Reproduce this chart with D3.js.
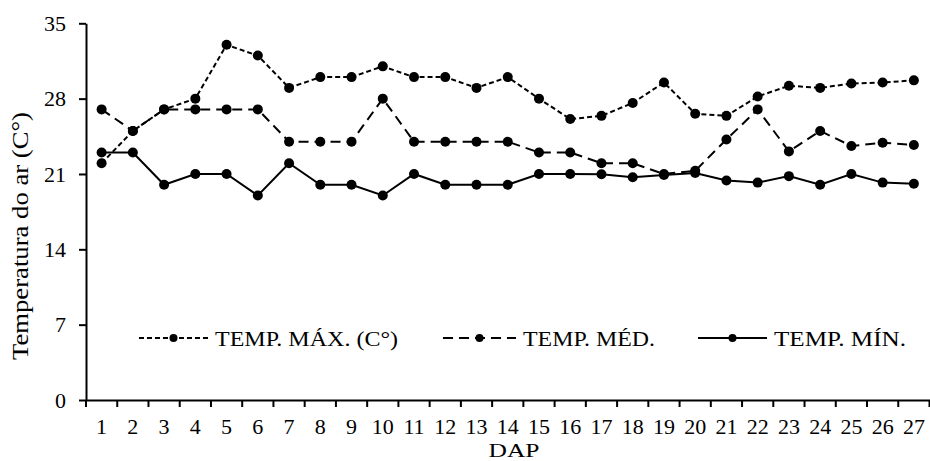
<!DOCTYPE html>
<html>
<head>
<meta charset="utf-8">
<script src="https://cdn.jsdelivr.net/npm/d3@7"></script>
<style>
  body { margin: 0; background: #fff; }
  svg text { font-family: "Liberation Serif", "Times New Roman", serif; fill: #000; }
</style>
</head>
<body>
<script>
// DAP (days after planting)
var days = d3.range(1, 28);

var tempMax = [22, 25, 27, 28, 33, 32, 29, 30, 30, 31, 30, 30, 29, 30, 28, 26.1, 26.4, 27.6, 29.5, 26.6, 26.4, 28.2, 29.2, 29.0, 29.4, 29.5, 29.7];
var tempMed = [27, 25, 27, 27, 27, 27, 24, 24, 24, 28, 24, 24, 24, 24, 23, 23, 22, 22, 21.0, 21.3, 24.2, 27, 23.1, 25, 23.6, 23.9, 23.7];
var tempMin = [23, 23, 20, 21, 21, 19, 22, 20, 20, 19, 21, 20, 20, 20, 21, 21, 20.97, 20.7, 20.9, 21.1, 20.4, 20.2, 20.8, 20, 21, 20.2, 20.1];

var yTicks = [0, 7, 14, 21, 28, 35];
var seriesNames = ['TEMP. MÁX. (C°)', 'TEMP. MÉD.', 'TEMP. MÍN.'];

const w = 930;
const h = 461;

// legendX/legendW/textLen are legend placement only
var series = [
  { name: seriesNames[0], values: tempMax, dash: '5,3', legendX: 139, legendW: 69, textLen: 183 },
  { name: seriesNames[1], values: tempMed, dash: '10,6', legendX: 443, legendW: 73, textLen: 132 },
  { name: seriesNames[2], values: tempMin, dash: null, legendX: 698, legendW: 69, textLen: 132 }
];

var svg = d3.select('body').append('svg')
  .attr('width', w)
  .attr('height', h);

var xScale = d3.scaleBand()
  .domain(days)
  .range([86, 929.5])
  .padding(0);

var yScale = d3.scaleLinear()
  .domain([0, 35])
  .range([400, 23.3]);

// y axis
var yAxis = d3.axisLeft(yScale)
  .tickValues(yTicks)
  .tickSize(7)
  .tickPadding(13)
  .tickSizeOuter(0);

var gy = svg.append('g')
  .attr('transform', 'translate(86,0)')
  .call(yAxis);
gy.select('.domain').attr('stroke', '#000').attr('stroke-width', 2);
gy.selectAll('.tick line').attr('stroke', '#000').attr('stroke-width', 2);
gy.selectAll('.tick text').style('font-size', '22px');

// x axis (labels in the band centres, ticks on the band edges)
var xAxis = d3.axisBottom(xScale)
  .tickSize(0)
  .tickPadding(18.5)
  .tickSizeOuter(0);

var gx = svg.append('g')
  .attr('transform', 'translate(0,400)')
  .call(xAxis);
gx.select('.domain').attr('stroke', '#000').attr('stroke-width', 2);
gx.selectAll('.tick text').style('font-size', '22px');

var edges = days.map(d => xScale(d)).concat([xScale.range()[1]]);
gx.selectAll('line.edge')
  .data(edges)
  .enter()
  .append('line')
  .attr('class', 'edge')
  .attr('x1', d => d)
  .attr('x2', d => d)
  .attr('y1', 0)
  .attr('y2', 7)
  .attr('stroke', '#000')
  .attr('stroke-width', 2);

// lines and markers
var line = d3.line()
  .x((d, i) => xScale(days[i]) + xScale.bandwidth() / 2)
  .y(d => yScale(d));

series.forEach(function(s) {
  svg.append('path')
    .datum(s.values)
    .attr('d', line)
    .attr('fill', 'none')
    .attr('stroke', '#000')
    .attr('stroke-width', 2)
    .attr('stroke-dasharray', s.dash);

  svg.append('g')
    .selectAll('circle')
    .data(s.values)
    .enter()
    .append('circle')
    .attr('cx', (d, i) => xScale(days[i]) + xScale.bandwidth() / 2)
    .attr('cy', d => yScale(d))
    .attr('r', 5)
    .attr('fill', '#000');
});

// legend
var legendY = 338;
series.forEach(function(s) {
  var g = svg.append('g');
  g.append('line')
    .attr('x1', s.legendX)
    .attr('x2', s.legendX + s.legendW)
    .attr('y1', legendY)
    .attr('y2', legendY)
    .attr('stroke', '#000')
    .attr('stroke-width', 2)
    .attr('stroke-dasharray', s.dash);
  g.append('circle')
    .attr('cx', s.legendX + s.legendW / 2)
    .attr('cy', legendY)
    .attr('r', 4)
    .attr('fill', '#000');
  g.append('text')
    .attr('x', s.legendX + s.legendW + 7)
    .attr('y', legendY + 8)
    .attr('textLength', s.textLen)
    .attr('lengthAdjust', 'spacingAndGlyphs')
    .style('font-size', '22px')
    .text(s.name);
});

// axis titles
svg.append('text')
  .attr('text-anchor', 'middle')
  .attr('transform', 'translate(28,236)rotate(-90)')
  .attr('textLength', 248)
  .attr('lengthAdjust', 'spacingAndGlyphs')
  .style('font-size', '22.5px')
  .text('Temperatura do ar (C°)');

svg.append('text')
  .attr('text-anchor', 'middle')
  .attr('x', 514)
  .attr('y', 456.5)
  .attr('textLength', 51)
  .attr('lengthAdjust', 'spacingAndGlyphs')
  .style('font-size', '19.5px')
  .text('DAP');
</script>
</body>
</html>
